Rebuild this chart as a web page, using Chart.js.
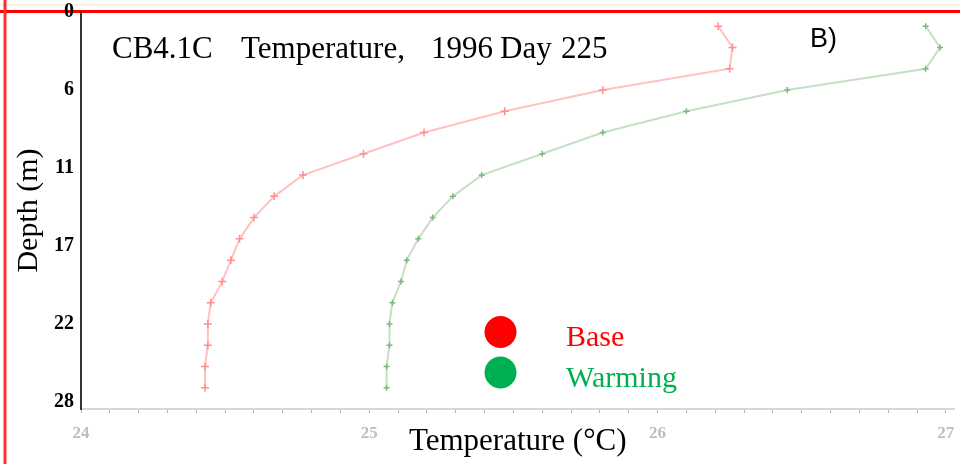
<!DOCTYPE html>
<html>
<head>
<meta charset="utf-8">
<script src="https://cdn.jsdelivr.net/npm/chart.js@4.4.1/dist/chart.umd.min.js"></script>
<style>
  html, body { margin: 0; padding: 0; background: #fff; }
  #wrap { position: relative; width: 960px; height: 464px; }
</style>
</head>
<body>
<div id="wrap"><canvas id="myChart"></canvas></div>
<script>
// data
const depth = [1, 2.5, 4, 5.5, 7, 8.5, 10, 11.5, 13, 14.5, 16, 17.5, 19, 20.5, 22, 23.5, 25, 26.5];
const baseTemp = [26.21, 26.26, 26.25, 25.81, 25.47, 25.19, 24.98, 24.77, 24.67, 24.6, 24.55, 24.52, 24.49, 24.45, 24.44, 24.44, 24.43, 24.43];
const warmTemp = [26.93, 26.98, 26.93, 26.45, 26.1, 25.81, 25.6, 25.39, 25.29, 25.22, 25.17, 25.13, 25.11, 25.08, 25.07, 25.07, 25.06, 25.06];
const xTickValues = [24, 25, 26, 27];
const yTickValues = [0, 5.5, 11, 16.5, 22, 27.5];
const yTickLabels = ["0", "6", "11", "17", "22", "28"];
const seriesNames = ["Base", "Warming"];

const toPoints = (temps) => temps.map((t, i) => ({ x: t, y: depth[i] }));

// teks, legend dan bingkai
const decor = {
  id: "decor",
  beforeDraw(chart) {
    const c = chart.ctx;
    c.save();
    // bingkai merah
    c.strokeStyle = "#fdf1de";
    c.lineWidth = 2;
    c.beginPath(); c.moveTo(0, 5); c.lineTo(960, 5); c.stroke();
    c.strokeStyle = "#ff0000";
    c.lineWidth = 3;
    c.beginPath(); c.moveTo(0, 11.5); c.lineTo(960, 11.5); c.stroke();
    c.strokeStyle = "#ff3030";
    c.beginPath(); c.moveTo(5, 0); c.lineTo(5, 464); c.stroke();
    c.restore();
  },
  afterDraw(chart) {
    const c = chart.ctx;
    c.save();
    // judul
    c.fillStyle = "#000";
    c.textBaseline = "alphabetic";
    c.font = "31px 'Liberation Serif'";
    c.fillText("CB4.1C", 112, 58);
    c.fillText("Temperature,", 241, 58);
    c.fillText("1996", 431, 58);
    c.fillText("Day", 500, 58);
    c.fillText("225", 561, 58);
    c.font = "27px 'Liberation Sans'";
    c.fillText("B)", 810, 47);

    // legend
    const colors = ["#ff0000", "#00b050"];
    const ys = [332, 372.5];
    seriesNames.forEach((name, i) => {
      c.fillStyle = colors[i];
      c.beginPath(); c.arc(500.5, ys[i], 16, 0, Math.PI * 2); c.fill();
      c.font = "30px 'Liberation Serif'";
      c.fillText(name, 566, ys[i] + 14);
    });
    c.restore();
  },
};

const ctx = document.getElementById("myChart");
new Chart(ctx, {
  type: "scatter",
  data: {
    datasets: [
      {
        label: seriesNames[0],
        data: toPoints(baseTemp),
        showLine: true,
        borderColor: "#ffc2c2",
        borderWidth: 2,
        pointStyle: "cross",
        pointRadius: 4,
        pointBorderWidth: 1.5,
        pointBorderColor: "#ff8f8f",
      },
      {
        label: seriesNames[1],
        data: toPoints(warmTemp),
        showLine: true,
        borderColor: "#c6dfc6",
        borderWidth: 2,
        pointStyle: "cross",
        pointRadius: 3,
        pointBorderWidth: 1.5,
        pointBorderColor: "#79b879",
      },
    ],
  },
  options: {
    responsive: true,
    maintainAspectRatio: false,
    animation: false,
    events: [],
    layout: { padding: { top: 12, left: 0, right: 0, bottom: 0 } },
    plugins: { legend: { display: false }, tooltip: { enabled: false } },
    scales: {
      x: {
        type: "linear",
        min: 24,
        max: 27.03,
        afterBuildTicks: (s) => {
          const t = [];
          for (let i = 0; i <= 30; i++) t.push({ value: 24 + i / 10 });
          s.ticks = t;
        },
        afterFit: (s) => {
          s.height = 55;
          s.paddingLeft = 0;
          s.paddingRight = 0;
        },
        ticks: {
          autoSkip: false,
          maxRotation: 0,
          padding: 10,
          color: "#bdbdbd",
          font: { family: "Liberation Serif", size: 17, weight: "bold" },
          callback: (v) => {
            const r = Math.round(v);
            return Math.abs(v - r) < 1e-6 && xTickValues.includes(r) ? String(r) : "";
          },
        },
        grid: { drawOnChartArea: false, drawTicks: true, tickLength: 4, color: "#b4b4b4" },
        border: { display: true, color: "#d6d6d6", width: 2 },
        title: {
          display: true,
          text: "Temperature (°C)",
          color: "#000",
          font: { family: "Liberation Serif", size: 31 },
          padding: { top: 0, bottom: 4 },
        },
      },
      y: {
        type: "linear",
        reverse: true,
        min: 0,
        max: 28,
        afterBuildTicks: (s) => {
          s.ticks = yTickValues.map((v) => ({ value: v }));
        },
        afterFit: (s) => {
          s.width = 81;
          s.paddingTop = 0;
          s.paddingBottom = 0;
        },
        ticks: {
          padding: 7,
          color: "#000",
          font: { family: "Liberation Serif", size: 20, weight: "bold" },
          callback: (v, i) => yTickLabels[i],
        },
        grid: { display: false, drawTicks: false, tickLength: 0 },
        border: { display: true, color: "#333", width: 2 },
        title: {
          display: true,
          text: "Depth (m)",
          color: "#000",
          font: { family: "Liberation Serif", size: 30 },
          padding: { top: 11, bottom: 0 },
        },
      },
    },
  },
  plugins: [decor],
});
</script>
</body>
</html>
